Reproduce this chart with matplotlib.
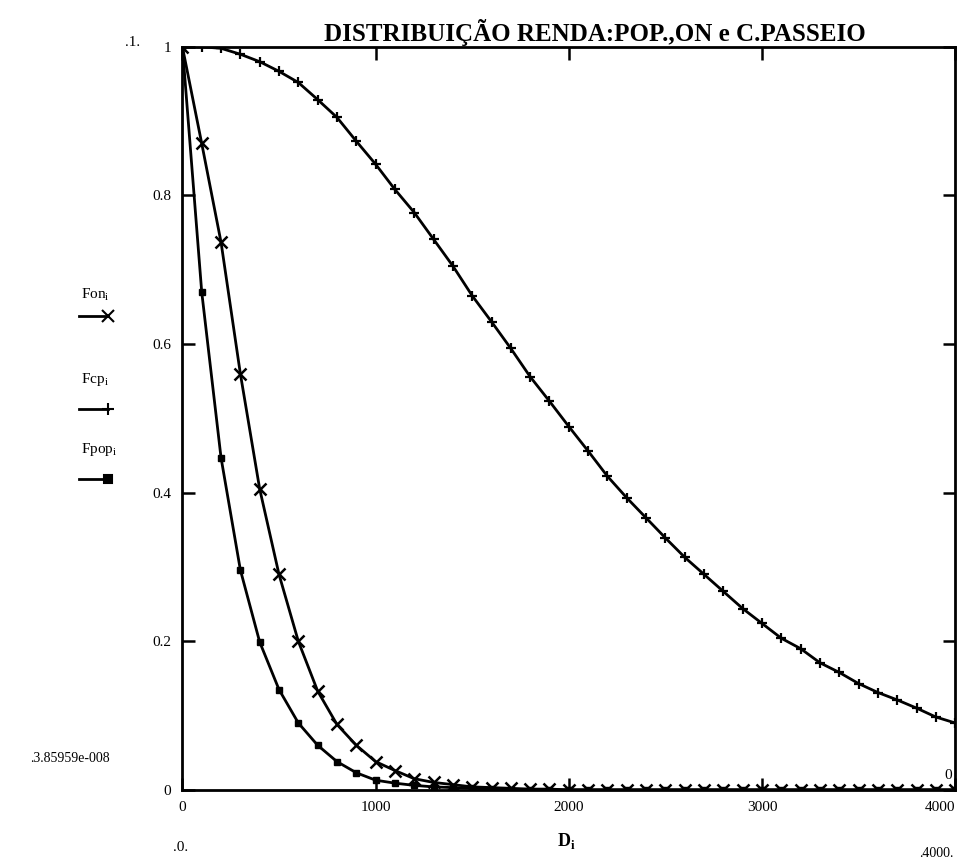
import matplotlib
matplotlib.use("Agg")
import matplotlib.pyplot as plt
from matplotlib.lines import Line2D

# D_i grid (renda), passo de 100
D = [0, 100, 200, 300, 400, 500, 600, 700, 800, 900,
     1000, 1100, 1200, 1300, 1400, 1500, 1600, 1700, 1800, 1900,
     2000, 2100, 2200, 2300, 2400, 2500, 2600, 2700, 2800, 2900,
     3000, 3100, 3200, 3300, 3400, 3500, 3600, 3700, 3800, 3900, 4000]

# carro de passeio (decai devagar)
Fcp = [1.0, 1.0, 0.998, 0.99, 0.98, 0.967, 0.952, 0.929, 0.905, 0.873,
       0.842, 0.808, 0.777, 0.741, 0.705, 0.665, 0.630, 0.594, 0.556, 0.523,
       0.489, 0.456, 0.422, 0.393, 0.366, 0.339, 0.313, 0.290, 0.267, 0.244,
       0.224, 0.204, 0.190, 0.171, 0.158, 0.143, 0.131, 0.121, 0.110, 0.098, 0.090]

# onibus
Fon = [1.0, 0.87, 0.737, 0.56, 0.405, 0.29, 0.20, 0.133, 0.088, 0.06,
       0.038, 0.026, 0.015, 0.01, 0.007, 0.004, 0.003, 0.002, 0.001, 0.001,
       0, 0, 0, 0, 0, 0, 0, 0, 0, 0,
       0, 0, 0, 0, 0, 0, 0, 0, 0, 0, 0]

# populacao
Fpop = [1.0, 0.67, 0.447, 0.296, 0.199, 0.135, 0.09, 0.06, 0.038, 0.023,
        0.013, 0.009, 0.006, 0.004, 0.003, 0.002, 0.001, 0, 0, 0,
        0, 0, 0, 0, 0, 0, 0, 0, 0, 0,
        0, 0, 0, 0, 0, 0, 0, 0, 0, 0, 0]

xticks = [0, 1000, 2000, 3000, 4000]
xlabels = ["0", "1000", "2000", "3000", "4000"]
yticks = [0, 0.2, 0.4, 0.6, 0.8, 1]
ylabels = ["0", "0.2", "0.4", "0.6", "0.8", "1"]

serif = ["Liberation Serif", "DejaVu Serif"]
plt.rcParams["font.family"] = serif
plt.rcParams["mathtext.fontset"] = "custom"
plt.rcParams["mathtext.rm"] = "Liberation Serif"
plt.rcParams["mathtext.bf"] = "Liberation Serif:bold"

fig = plt.figure(figsize=(9.6, 8.67), dpi=100)
ax = fig.add_axes([0.19, 0.089, 0.805, 0.857])

ax.plot(D, Fcp, color="black", lw=2, marker="+", ms=7, mew=1.6)
ax.plot(D, Fon, color="black", lw=2, marker="x", ms=8, mew=1.8)
ax.plot(D, Fpop, color="black", lw=2, marker="s", ms=5, mew=1)

ax.set_xlim(0, 4000)
ax.set_ylim(0, 1)
ax.set_xticks(xticks)
ax.set_xticklabels(xlabels)
ax.set_yticks(yticks)
ax.set_yticklabels(ylabels)
ax.get_xticklabels()[-1].set_ha("right")
ax.tick_params(direction="in", length=9, width=1.8, top=True, right=True,
               labelsize=11, pad=8)
for s in ax.spines.values():
    s.set_linewidth(2)

fig.text(0.62, 0.963, "DISTRIBUIÇÃO RENDA:POP.,ON e C.PASSEIO",
         ha="center", va="center", fontsize=18, fontweight="bold")

# rotulos de limites estilo Mathcad
fig.text(0.138, 0.951, ".1.", ha="center", va="center", fontsize=11)
fig.text(0.073, 0.125, ".3.85959e-008", ha="center", va="center", fontsize=10)
fig.text(0.188, 0.022, ".0.", ha="center", va="center", fontsize=11)
fig.text(0.975, 0.015, ".4000.", ha="center", va="center", fontsize=10)
fig.text(0.59, 0.030, "$\\mathbf{D}_{\\mathbf{i}}$", ha="center", va="center", fontsize=13)
fig.text(0.988, 0.105, "0", ha="center", va="center", fontsize=11)

# legenda do eixo y
legend_items = [("Fon", "x", 0.660, 0.635),
                ("Fcp", "+", 0.562, 0.528),
                ("Fpop", "s", 0.482, 0.448)]
for name, mk, ty, ly in legend_items:
    fig.text(0.084, ty, "%s$_{\\mathrm{i}}$" % name, ha="left", va="center",
             fontsize=11)
    fig.add_artist(Line2D([0.082, 0.112], [ly, ly], transform=fig.transFigure,
                          color="black", lw=2, marker=mk, markevery=[1],
                          ms=6 if mk == "s" else 8, mew=1.5))

fig.savefig("out.png", dpi=100, facecolor="white")
